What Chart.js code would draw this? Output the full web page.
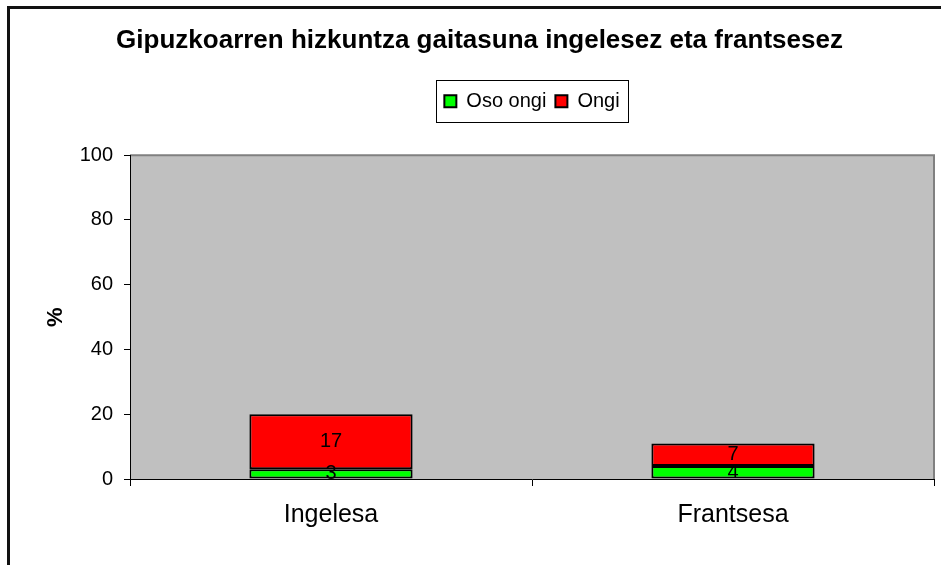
<!DOCTYPE html>
<html>
<head>
<meta charset="utf-8">
<title>Gipuzkoarren hizkuntza gaitasuna</title>
<script src="https://cdn.jsdelivr.net/npm/chart.js@4/dist/chart.umd.min.js"></script>
<style>
  body { margin: 0; background: #fff; }
  #wrap { width: 941px; height: 565px; position: relative; }
</style>
</head>
<body>
<div id="wrap"><canvas id="chart"></canvas></div>
<script>
const labels = ['Ingelesa', 'Frantsesa'];
const osoOngi = [3, 4];
const ongi = [17, 7];
const yTicks = [0, 20, 40, 60, 80, 100];

const FONT = "'Liberation Sans', Arial, sans-serif";
Chart.defaults.font.family = FONT;
Chart.defaults.color = '#000';

// grey plot area + outer frame (top and left edge only)
const background = {
  id: 'background',
  beforeDraw(chart) {
    const ctx = chart.ctx;
    const a = chart.chartArea;
    ctx.save();
    ctx.fillStyle = '#111';
    ctx.fillRect(7, 6, 934, 3);
    ctx.fillRect(7, 6, 3, 559);
    ctx.fillStyle = '#c0c0c0';
    ctx.fillRect(a.left, a.top, a.right - a.left, a.bottom - a.top);
    ctx.strokeStyle = '#808080';
    ctx.lineWidth = 2;
    ctx.beginPath();
    ctx.moveTo(a.left, a.top);
    ctx.lineTo(a.right, a.top);
    ctx.lineTo(a.right, a.bottom);
    ctx.stroke();
    ctx.restore();
  }
};

// box round the legend
const legendBorder = {
  id: 'legendBorder',
  afterDraw(chart) {
    const boxes = chart.legend && chart.legend.legendHitBoxes;
    if (!boxes || !boxes.length) return;
    let l = Infinity, r = -Infinity, t = Infinity, b = -Infinity;
    boxes.forEach(h => {
      l = Math.min(l, h.left);
      r = Math.max(r, h.left + h.width);
      t = Math.min(t, h.top);
      b = Math.max(b, h.top + h.height);
    });
    const ctx = chart.ctx;
    ctx.save();
    ctx.strokeStyle = '#000';
    ctx.lineWidth = 1;
    ctx.strokeRect(Math.round(l - 8) + 0.5, Math.round(t - 11) + 0.5, Math.round(r - l + 17), Math.round(b - t + 22));
    ctx.restore();
  }
};

// values written in the middle of each segment
const valueLabels = {
  id: 'valueLabels',
  afterDatasetsDraw(chart) {
    const ctx = chart.ctx;
    ctx.save();
    ctx.font = '20px ' + FONT;
    ctx.fillStyle = '#000';
    ctx.textAlign = 'center';
    ctx.textBaseline = 'middle';
    chart.data.datasets.forEach((ds, i) => {
      chart.getDatasetMeta(i).data.forEach((bar, j) => {
        const p = bar.getProps(['x', 'y', 'base'], true);
        ctx.fillText(ds.data[j], p.x, (p.y + p.base) / 2);
      });
    });
    ctx.restore();
  }
};

new Chart(document.getElementById('chart'), {
  type: 'bar',
  data: {
    labels: labels,
    datasets: [
      {
        label: 'Oso ongi',
        data: osoOngi,
        backgroundColor: '#00ff00',
        borderColor: '#000',
        borderWidth: 2,
        borderSkipped: false
      },
      {
        label: 'Ongi',
        data: ongi,
        backgroundColor: '#ff0000',
        borderColor: '#000',
        borderWidth: 2,
        borderSkipped: false
      }
    ]
  },
  options: {
    responsive: true,
    maintainAspectRatio: false,
    animation: false,
    datasets: {
      bar: { categoryPercentage: 1, barPercentage: 0.406 }
    },
    layout: { padding: { left: 25, right: 7, top: 0, bottom: 0 } },
    plugins: {
      title: {
        display: true,
        text: 'Gipuzkoarren hizkuntza gaitasuna ingelesez eta frantsesez',
        font: { size: 26, weight: 'bold' },
        color: '#000',
        padding: { top: 25, bottom: 26 }
      },
      legend: {
        fullSize: false,
        labels: {
          boxWidth: 12,
          boxHeight: 12,
          padding: 9,
          font: { size: 20 },
          color: '#000'
        }
      },
      // empty spacer between legend and plot
      subtitle: {
        display: true,
        text: '',
        weight: 500,
        font: { size: 10 },
        padding: { top: 22, bottom: 0 }
      },
      tooltip: { enabled: false }
    },
    scales: {
      x: {
        stacked: true,
        grid: {
          offset: true,
          drawOnChartArea: false,
          tickLength: 7,
          color: '#000'
        },
        border: { color: '#000', width: 1 },
        ticks: { font: { size: 25 }, padding: 14, color: '#000' },
        afterFit(scale) { scale.height = 86; }
      },
      y: {
        stacked: true,
        min: 0,
        max: 100,
        afterBuildTicks(scale) { scale.ticks = yTicks.map(v => ({ value: v })); },
        grid: {
          drawOnChartArea: false,
          tickLength: 6,
          color: '#000'
        },
        border: { color: '#000', width: 1 },
        ticks: { font: { size: 20 }, padding: 11, color: '#000' },
        title: {
          display: true,
          text: '%',
          font: { size: 22, weight: 'bold' },
          color: '#000',
          padding: { top: 18, bottom: 0 }
        },
        afterFit(scale) { scale.width = 105; }
      }
    }
  },
  plugins: [background, legendBorder, valueLabels]
});
</script>
</body>
</html>
